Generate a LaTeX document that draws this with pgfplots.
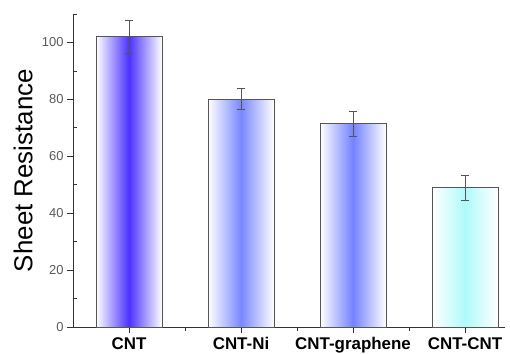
\documentclass[border=0pt]{standalone}
\usepackage{fontspec}
\setmainfont{Liberation Sans}
\usepackage{pgfplots}
\pgfplotsset{compat=1.18}
\definecolor{c1}{RGB}{75,50,255}
\definecolor{c2}{RGB}{120,135,255}
\definecolor{c3}{RGB}{115,130,255}
\definecolor{c4}{RGB}{175,250,250}
\definecolor{edge}{RGB}{85,85,85}
\begin{document}
\begin{tikzpicture}
\begin{axis}[
  scale only axis, width=432bp, height=313bp,
  xmin=-0.5, xmax=3.357, ymin=0, ymax=110,
  axis lines=left, axis line style={-, color=black!80, line width=0.8pt},
  xtick={0,1,2,3}, xticklabels={CNT,CNT-Ni,CNT-graphene,CNT-CNT},
  minor xtick={0.5,1.5,2.5},
  ytick={0,20,40,60,80,100}, minor ytick={10,30,50,70,90,110},
  tick align=outside, tick style={black!80, line width=0.7pt},
  major tick length=6bp, minor tick length=4bp,
  minor y tick style={xshift=4bp},
  xticklabel style={font=\fontsize{17}{17}\selectfont\bfseries, yshift=-1bp},
  yticklabel style={font=\fontsize{13}{13}\selectfont, color=black!65},
  /pgf/number format/assume math mode=true,
  ylabel={Sheet Resistance},
  ylabel style={font=\fontsize{26}{26}\selectfont, at={(axis description cs:-0.1157,0.5)}, anchor=center},
  ybar, bar width=66bp, bar shift=0pt,
  clip=false,
]
\addplot[draw=edge, line width=0.8pt, left color=white, right color=white, middle color=c1,
  error bars/.cd, y dir=both, y explicit, error bar style={edge, line width=0.7pt}, error mark options={rotate=90, mark size=4bp, edge}]
  coordinates {(0,102) +- (0,5.8)};
\addplot[draw=edge, line width=0.8pt, left color=white, right color=white, middle color=c2,
  error bars/.cd, y dir=both, y explicit, error bar style={edge, line width=0.7pt}, error mark options={rotate=90, mark size=4bp, edge}]
  coordinates {(1,80.1) +- (0,3.7)};
\addplot[draw=edge, line width=0.8pt, left color=white, right color=white, middle color=c3,
  error bars/.cd, y dir=both, y explicit, error bar style={edge, line width=0.7pt}, error mark options={rotate=90, mark size=4bp, edge}]
  coordinates {(2,71.4) +- (0,4.3)};
\addplot[draw=edge, line width=0.8pt, left color=white, right color=white, middle color=c4,
  error bars/.cd, y dir=both, y explicit, error bar style={edge, line width=0.7pt}, error mark options={rotate=90, mark size=4bp, edge}]
  coordinates {(3,48.9) +- (0,4.3)};
\end{axis}
\pgfresetboundingbox
\path[use as bounding box] ([shift={(-73bp,-27bp)}]current axis.south west) rectangle ([shift={(5bp,14bp)}]current axis.north east);
\end{tikzpicture}
\end{document}
